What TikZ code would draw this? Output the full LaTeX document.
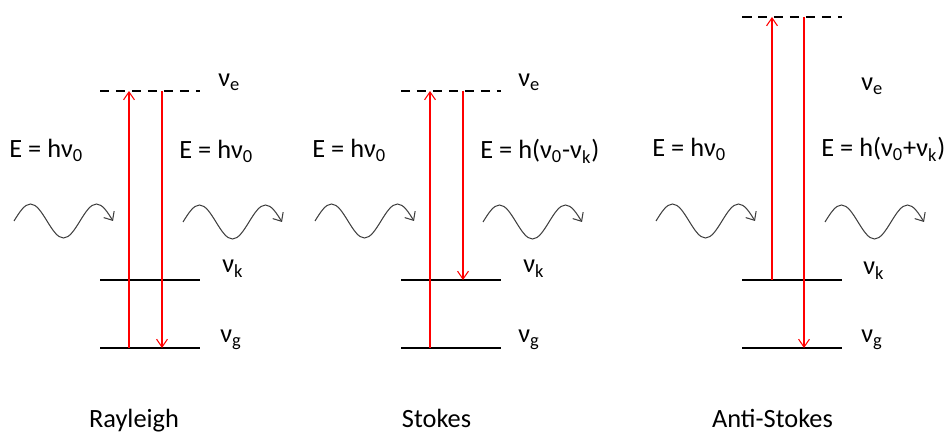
\documentclass[tikz,border=0pt]{standalone}
\usepackage{fontspec}
\setmainfont{Carlito}
\usetikzlibrary{arrows.meta, positioning}
\definecolor{ramanred}{RGB}{255,0,0}
\definecolor{wavegray}{RGB}{64,64,64}
\newcommand{\nusub}[1]{ν\textsubscript{#1}}

\begin{document}
\begin{tikzpicture}[
  lvl/.style={minimum width=2cm, minimum height=0pt, inner sep=0pt, outer sep=0pt},
  solidlvl/.style={draw=black, line width=1.1pt},
  virtlvl/.style={draw=black, line width=1.1pt, dash pattern=on 5.4pt off 3.7pt},
  trans/.style={ramanred, line width=0.6pt, -{Straight Barb[length=4.5pt, width=6.2pt]}},
  wavy/.style={wavegray, line width=0.6pt, -{Straight Barb[length=4pt, width=7pt]}},
  photon/.pic={\draw[wavy] (0,0) sin (0.33,0.34) cos (0.66,0) sin (0.99,-0.34)
                cos (1.32,0) sin (1.65,0.34) cos (1.98,0);},
  every node/.style={font=\fontsize{15}{18}\selectfont, inner sep=0pt}
]
  \useasboundingbox (0,0) rectangle (18.88,-8.64);

  %% --- Rayleigh ---
  \node[lvl] (ray-e) at (3.0,-1.82) {};
  \node[lvl] (ray-k) at (3.0,-5.6)  {};
  \node[lvl] (ray-g) at (3.0,-6.96) {};
  \draw[virtlvl]  (ray-e.west) -- (ray-e.east);
  \draw[solidlvl] (ray-k.west) -- (ray-k.east);
  \draw[solidlvl] (ray-g.west) -- (ray-g.east);

  \node[anchor=base west] (ray-nue) at (4.36,-1.74) {\nusub{e}};
  \node[anchor=base west] (ray-nuk) at (4.44,-5.46) {\nusub{k}};
  \node[anchor=base west] (ray-nug) at (4.40,-6.86) {\nusub{g}};
  \node[anchor=base west] (ray-ein)  at (0.18,-3.16) {E = h\nusub{0}};
  \node[anchor=base west] (ray-eout) at (3.58,-3.18) {E = h\nusub{0}};
  \pic (ray-win)  at (0.28,-4.42) {photon};
  \pic (ray-wout) at (3.66,-4.44) {photon};
  \node[anchor=base] (ray-name) at (2.68,-8.54) {Rayleigh};

  \draw[trans] ([xshift=-0.42cm]ray-g.center) -- ([xshift=-0.42cm]ray-e.center);
  \draw[trans] ([xshift=0.24cm]ray-e.center)  -- ([xshift=0.24cm]ray-g.center);

  %% --- Stokes ---
  \node[lvl] (sto-e) at (9.02,-1.82) {};
  \node[lvl] (sto-k) at (9.02,-5.6)  {};
  \node[lvl] (sto-g) at (9.02,-6.96) {};
  \draw[virtlvl]  (sto-e.west) -- (sto-e.east);
  \draw[solidlvl] (sto-k.west) -- (sto-k.east);
  \draw[solidlvl] (sto-g.west) -- (sto-g.east);

  \node[anchor=base west] (sto-nue) at (10.36,-1.74) {\nusub{e}};
  \node[anchor=base west] (sto-nuk) at (10.46,-5.46) {\nusub{k}};
  \node[anchor=base west] (sto-nug) at (10.36,-6.86) {\nusub{g}};
  \node[anchor=base west] (sto-ein)  at (6.24,-3.16) {E = h\nusub{0}};
  \node[anchor=base west] (sto-eout) at (9.60,-3.18) {E = h(\nusub{0}-\nusub{k})};
  \pic (sto-win)  at (6.30,-4.42) {photon};
  \pic (sto-wout) at (9.66,-4.44) {photon};
  \node[anchor=base] (sto-name) at (8.73,-8.54) {Stokes};

  \draw[trans] ([xshift=-0.42cm]sto-g.center) -- ([xshift=-0.42cm]sto-e.center);
  \draw[trans] ([xshift=0.24cm]sto-e.center)  -- ([xshift=0.24cm]sto-k.center);

  %% --- Anti-Stokes ---
  \node[lvl] (ant-e) at (15.84,-0.34) {};
  \node[lvl] (ant-k) at (15.84,-5.6)  {};
  \node[lvl] (ant-g) at (15.84,-6.96) {};
  \draw[virtlvl]  (ant-e.west) -- (ant-e.east);
  \draw[solidlvl] (ant-k.west) -- (ant-k.east);
  \draw[solidlvl] (ant-g.west) -- (ant-g.east);

  \node[anchor=base west] (ant-nue) at (17.22,-1.82) {\nusub{e}};
  \node[anchor=base west] (ant-nuk) at (17.26,-5.50) {\nusub{k}};
  \node[anchor=base west] (ant-nug) at (17.22,-6.86) {\nusub{g}};
  \node[anchor=base west] (ant-ein)  at (13.04,-3.14) {E = h\nusub{0}};
  \node[anchor=base west] (ant-eout) at (16.42,-3.14) {E = h(\nusub{0}+\nusub{k})};
  \pic (ant-win)  at (13.12,-4.42) {photon};
  \pic (ant-wout) at (16.50,-4.44) {photon};
  \node[anchor=base] (ant-name) at (15.45,-8.54) {Anti-Stokes};

  \draw[trans] ([xshift=-0.40cm]ant-k.center) -- ([xshift=-0.40cm]ant-e.center);
  \draw[trans] ([xshift=0.24cm]ant-e.center)  -- ([xshift=0.24cm]ant-g.center);

\end{tikzpicture}
\end{document}
